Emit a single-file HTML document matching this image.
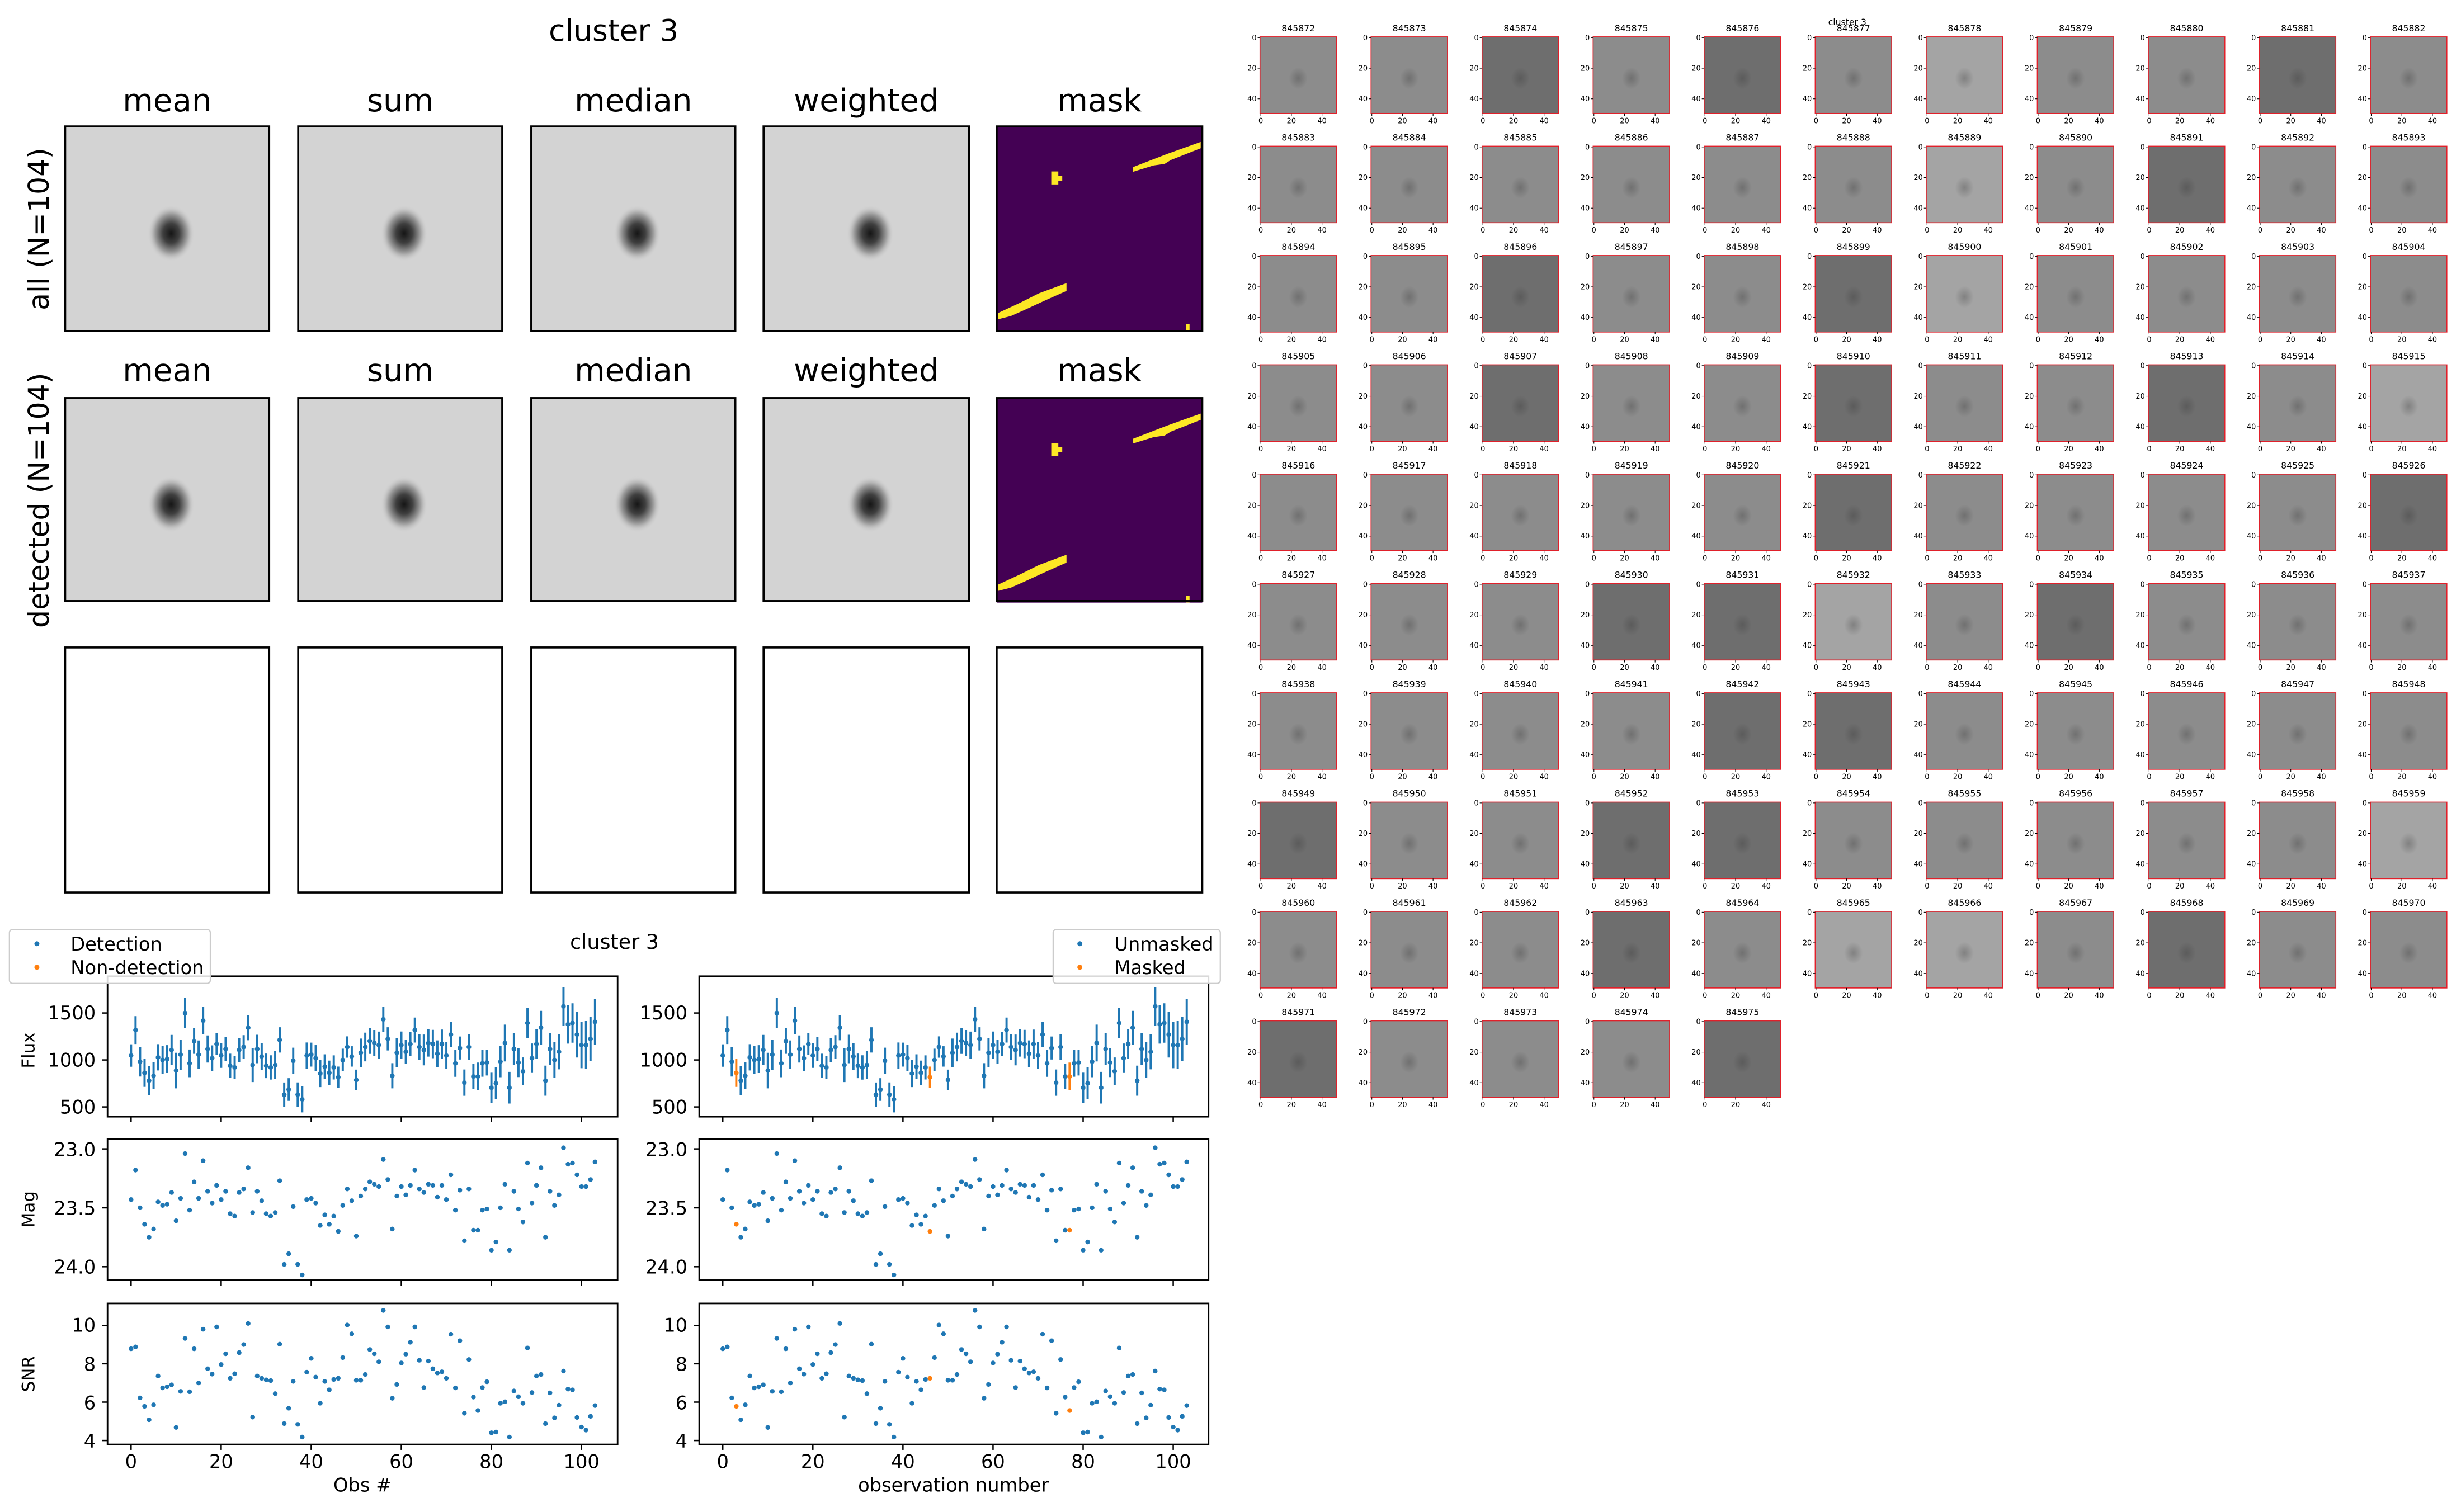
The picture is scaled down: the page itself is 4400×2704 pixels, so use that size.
<!DOCTYPE html>
<html><head><meta charset="utf-8"><style>
html,body{margin:0;padding:0;background:#fff;}
svg{display:block;}
text{font-family:"DejaVu Sans","Liberation Sans",sans-serif;fill:#000;}
</style></head><body>
<svg id="s" xmlns="http://www.w3.org/2000/svg" width="4400" height="2704" viewBox="0 0 1568 964" preserveAspectRatio="none">
<defs>
<radialGradient id="blob" cx="0.5" cy="0.5" r="0.5">
<stop offset="0" stop-color="#151515"/>
<stop offset="0.35" stop-color="#404040"/>
<stop offset="0.7" stop-color="#a0a0a0"/>
<stop offset="1" stop-color="#d2d2d2" stop-opacity="0"/>
</radialGradient>
<radialGradient id="tblob" cx="0.5" cy="0.5" r="0.5">
<stop offset="0" stop-color="#303030" stop-opacity="0.3"/>
<stop offset="1" stop-color="#303030" stop-opacity="0"/>
</radialGradient>
<g id="maskshape">
<rect x="635" y="80.6" width="131" height="130.4" fill="#440154"/>
<polygon points="722,109.5 722,106.5 744,98 765,90.5 765,94.5 746,102 742,104.5 735,105.5" fill="#fde725"/>
<polygon points="636,203.5 636,199.5 650,193 662,187 679.5,180.5 679.5,185.5 666,191.5 653,197.5 644,201.5" fill="#fde725"/>
<rect x="669.8" y="109.3" width="4.5" height="8.3" fill="#fde725"/><rect x="674" y="112" width="2.8" height="3.2" fill="#fde725"/>
<rect x="755.5" y="206.7" width="2.4" height="4.2" fill="#fde725"/>
</g>
</defs>

<text x="391" y="26" font-size="19" text-anchor="middle">cluster 3</text>
<g font-size="20" text-anchor="middle">
<text x="106.5" y="71">mean</text><text x="255" y="71">sum</text><text x="403.5" y="71">median</text><text x="552" y="71">weighted</text><text x="700.5" y="71">mask</text>
<text x="106.5" y="243">mean</text><text x="255" y="243">sum</text><text x="403.5" y="243">median</text><text x="552" y="243">weighted</text><text x="700.5" y="243">mask</text>
</g>
<text transform="translate(31,146) rotate(-90)" font-size="18" text-anchor="middle">all (N=104)</text>
<text transform="translate(31,319) rotate(-90)" font-size="18" text-anchor="middle">detected (N=104)</text>
<g id="topimgs"></g>
<use href="#maskshape"/>
<use href="#maskshape" y="173.2"/>
<g fill="none" stroke="#000" stroke-width="1.3">
<rect x="635" y="80.6" width="131" height="130.4"/><rect x="635" y="253.8" width="131" height="129.4"/>
<rect x="41.5" y="412.8" width="130" height="156.2"/><rect x="190" y="412.8" width="130" height="156.2"/><rect x="338.5" y="412.8" width="130" height="156.2"/><rect x="486.5" y="412.8" width="131" height="156.2"/><rect x="635" y="412.8" width="131" height="156.2"/>
</g>

<text x="391.5" y="605" font-size="13" text-anchor="middle">cluster 3</text>
<g id="lc"></g>
<g font-size="12" text-anchor="end">
<text x="61" y="650">1500</text><text x="61" y="680">1000</text><text x="61" y="710">500</text>
<text x="61" y="737">23.0</text><text x="61" y="774.5">23.5</text><text x="61" y="812">24.0</text>
<text x="61" y="849">10</text><text x="61" y="874">8</text><text x="61" y="898.5">6</text><text x="61" y="923">4</text>
<text x="438" y="650">1500</text><text x="438" y="680">1000</text><text x="438" y="710">500</text>
<text x="438" y="737">23.0</text><text x="438" y="774.5">23.5</text><text x="438" y="812">24.0</text>
<text x="438" y="849">10</text><text x="438" y="874">8</text><text x="438" y="898.5">6</text><text x="438" y="923">4</text>
</g>
<g font-size="12" text-anchor="middle">
<text x="83.5" y="936">0</text><text x="140.9" y="936">20</text><text x="198.3" y="936">40</text><text x="255.7" y="936">60</text><text x="313.1" y="936">80</text><text x="370.5" y="936">100</text>
<text x="460.5" y="936">0</text><text x="517.9" y="936">20</text><text x="575.3" y="936">40</text><text x="632.7" y="936">60</text><text x="690.1" y="936">80</text><text x="747.5" y="936">100</text>
<text x="231" y="951">Obs #</text><text x="607.5" y="951">observation number</text>
</g>
<g font-size="11" text-anchor="middle">
<text transform="translate(22,669.7) rotate(-90)">Flux</text>
<text transform="translate(22,771) rotate(-90)">Mag</text>
<text transform="translate(22,876) rotate(-90)">SNR</text>
</g>
<rect x="6" y="592.6" width="128" height="34.4" rx="2" fill="#fff" fill-opacity="0.85" stroke="#ccc" stroke-width="0.8"/>
<circle cx="23.5" cy="601.7" r="1.6" fill="#1f77b4"/><circle cx="23.5" cy="616.7" r="1.6" fill="#ff7f0e"/>
<text x="45" y="606" font-size="12">Detection</text><text x="45" y="621" font-size="12">Non-detection</text>
<rect x="671" y="592.6" width="106.5" height="34.4" rx="2" fill="#fff" fill-opacity="0.85" stroke="#ccc" stroke-width="0.8"/>
<circle cx="688" cy="601.7" r="1.6" fill="#1f77b4"/><circle cx="688" cy="616.7" r="1.6" fill="#ff7f0e"/>
<text x="710" y="606" font-size="12">Unmasked</text><text x="710" y="621" font-size="12">Masked</text>

<g id="thumbs"></g>
<g font-size="5.6" text-anchor="middle">
<text y="20"><tspan x="827.2">845872</tspan><tspan x="897.9">845873</tspan><tspan x="968.7">845874</tspan><tspan x="1039.4">845875</tspan><tspan x="1110.2">845876</tspan><tspan x="1180.9">845877</tspan><tspan x="1251.7">845878</tspan><tspan x="1322.5">845879</tspan><tspan x="1393.2">845880</tspan><tspan x="1464">845881</tspan><tspan x="1534.7">845882</tspan></text>
<text y="89.7"><tspan x="827.2">845883</tspan><tspan x="897.9">845884</tspan><tspan x="968.7">845885</tspan><tspan x="1039.4">845886</tspan><tspan x="1110.2">845887</tspan><tspan x="1180.9">845888</tspan><tspan x="1251.7">845889</tspan><tspan x="1322.5">845890</tspan><tspan x="1393.2">845891</tspan><tspan x="1464">845892</tspan><tspan x="1534.7">845893</tspan></text>
<text y="159.4"><tspan x="827.2">845894</tspan><tspan x="897.9">845895</tspan><tspan x="968.7">845896</tspan><tspan x="1039.4">845897</tspan><tspan x="1110.2">845898</tspan><tspan x="1180.9">845899</tspan><tspan x="1251.7">845900</tspan><tspan x="1322.5">845901</tspan><tspan x="1393.2">845902</tspan><tspan x="1464">845903</tspan><tspan x="1534.7">845904</tspan></text>
<text y="229.1"><tspan x="827.2">845905</tspan><tspan x="897.9">845906</tspan><tspan x="968.7">845907</tspan><tspan x="1039.4">845908</tspan><tspan x="1110.2">845909</tspan><tspan x="1180.9">845910</tspan><tspan x="1251.7">845911</tspan><tspan x="1322.5">845912</tspan><tspan x="1393.2">845913</tspan><tspan x="1464">845914</tspan><tspan x="1534.7">845915</tspan></text>
<text y="298.8"><tspan x="827.2">845916</tspan><tspan x="897.9">845917</tspan><tspan x="968.7">845918</tspan><tspan x="1039.4">845919</tspan><tspan x="1110.2">845920</tspan><tspan x="1180.9">845921</tspan><tspan x="1251.7">845922</tspan><tspan x="1322.5">845923</tspan><tspan x="1393.2">845924</tspan><tspan x="1464">845925</tspan><tspan x="1534.7">845926</tspan></text>
<text y="368.5"><tspan x="827.2">845927</tspan><tspan x="897.9">845928</tspan><tspan x="968.7">845929</tspan><tspan x="1039.4">845930</tspan><tspan x="1110.2">845931</tspan><tspan x="1180.9">845932</tspan><tspan x="1251.7">845933</tspan><tspan x="1322.5">845934</tspan><tspan x="1393.2">845935</tspan><tspan x="1464">845936</tspan><tspan x="1534.7">845937</tspan></text>
<text y="438.2"><tspan x="827.2">845938</tspan><tspan x="897.9">845939</tspan><tspan x="968.7">845940</tspan><tspan x="1039.4">845941</tspan><tspan x="1110.2">845942</tspan><tspan x="1180.9">845943</tspan><tspan x="1251.7">845944</tspan><tspan x="1322.5">845945</tspan><tspan x="1393.2">845946</tspan><tspan x="1464">845947</tspan><tspan x="1534.7">845948</tspan></text>
<text y="507.9"><tspan x="827.2">845949</tspan><tspan x="897.9">845950</tspan><tspan x="968.7">845951</tspan><tspan x="1039.4">845952</tspan><tspan x="1110.2">845953</tspan><tspan x="1180.9">845954</tspan><tspan x="1251.7">845955</tspan><tspan x="1322.5">845956</tspan><tspan x="1393.2">845957</tspan><tspan x="1464">845958</tspan><tspan x="1534.7">845959</tspan></text>
<text y="577.6"><tspan x="827.2">845960</tspan><tspan x="897.9">845961</tspan><tspan x="968.7">845962</tspan><tspan x="1039.4">845963</tspan><tspan x="1110.2">845964</tspan><tspan x="1180.9">845965</tspan><tspan x="1251.7">845966</tspan><tspan x="1322.5">845967</tspan><tspan x="1393.2">845968</tspan><tspan x="1464">845969</tspan><tspan x="1534.7">845970</tspan></text>
<text y="647.3"><tspan x="827.2">845971</tspan><tspan x="897.9">845972</tspan><tspan x="968.7">845973</tspan><tspan x="1039.4">845974</tspan><tspan x="1110.2">845975</tspan></text>
<text x="1177" y="16">cluster 3</text>
</g>
<g id="tticks" font-size="4.6"></g>
</svg>
<script>
var NS="http://www.w3.org/2000/svg";
function el(p,t,a,txt){var e=document.createElementNS(NS,t);for(var k in a)e.setAttribute(k,a[k]);if(txt!==undefined)e.textContent=txt;p.appendChild(e);return e;}
var ti=document.getElementById('topimgs');
var xs=[41.5,190,338.5,486.5],ws=[130,130,130,131];
[[80.6,130.4],[253.8,129.4]].forEach(function(r){
 for(var i=0;i<4;i++){
  el(ti,'rect',{x:xs[i],y:r[0],width:ws[i],height:r[1],fill:'#d3d3d3',stroke:'#000','stroke-width':1.3});
  var cx=xs[i]+ws[i]/2+2.5, cy=r[0]+r[1]/2+3;
  el(ti,'ellipse',{cx:cx,cy:cy,rx:15,ry:18,fill:'url(#blob)'});
 }
});
var M=[23.43,23.18,23.50,23.64,23.75,23.68,23.45,23.48,23.47,23.37,23.61,23.42,23.04,23.52,23.28,23.42,23.10,23.36,23.46,23.31,23.43,23.36,23.55,23.57,23.37,23.34,23.16,23.54,23.36,23.44,23.55,23.57,23.54,23.27,23.98,23.89,23.49,23.98,24.07,23.43,23.42,23.46,23.65,23.56,23.64,23.57,23.70,23.48,23.34,23.44,23.74,23.40,23.34,23.28,23.30,23.32,23.09,23.26,23.68,23.40,23.32,23.39,23.31,23.18,23.34,23.37,23.30,23.31,23.41,23.31,23.43,23.22,23.52,23.35,23.78,23.34,23.69,23.69,23.52,23.51,23.86,23.79,23.50,23.30,23.86,23.36,23.51,23.62,23.12,23.46,23.31,23.16,23.75,23.36,23.48,23.39,22.99,23.13,23.12,23.22,23.32,23.32,23.26,23.11];
var S=[8.78,8.88,6.22,5.78,5.08,5.86,7.36,6.74,6.8,6.9,4.68,6.56,9.32,6.54,8.78,7.0,9.8,7.74,7.46,9.92,7.96,8.52,7.24,7.48,8.58,9.0,10.1,5.22,7.36,7.24,7.16,7.12,6.44,9.02,4.88,5.68,7.08,4.84,4.18,7.56,8.28,7.3,5.94,7.08,6.64,7.18,7.24,8.32,10.02,9.56,7.14,7.14,7.44,8.74,8.52,8.1,10.78,9.92,6.2,6.92,8.04,8.5,9.12,9.92,8.18,6.76,8.14,7.74,7.52,7.58,7.24,9.54,6.74,9.2,5.42,8.22,6.26,5.56,6.76,7.06,4.4,4.44,5.94,6.02,4.18,6.58,6.28,5.94,8.82,6.5,7.36,7.44,4.88,6.48,5.18,5.84,7.62,6.68,6.64,5.2,4.7,4.54,5.26,5.82];
var masked={3:1,46:1,77:1};
var lc=document.getElementById('lc');
function fy(f){return 675.8-(f-1000)*0.0599;}
function my(m){return 732.5+(m-23)*75.1;}
function sy(s){return 918.4-(s-4)*12.23;}
var panels=[[622.4,712],[726.3,816.2],[831,920.9]];
[[68.5,393.5,83.5],[445.5,770,460.5]].forEach(function(P,pi){
 var x0=P[2];
 for(var i=0;i<104;i++){
  var x=x0+i*2.87, col=(pi==1&&masked[i])?'#ff7f0e':'#1f77b4';
  var f=1000*Math.pow(10,-0.4*(M[i]-23.48)), e=f/S[i];
  el(lc,'line',{x1:x,x2:x,y1:fy(f-e),y2:fy(f+e),stroke:col,'stroke-width':1.4});
  el(lc,'circle',{cx:x,cy:fy(f),r:1.5,fill:col});
  el(lc,'circle',{cx:x,cy:my(M[i]),r:1.5,fill:col});
  el(lc,'circle',{cx:x,cy:sy(S[i]),r:1.5,fill:col});
 }
 panels.forEach(function(pp){
  el(lc,'rect',{x:P[0],y:pp[0],width:P[1]-P[0],height:pp[1]-pp[0],fill:'none',stroke:'#000','stroke-width':1});
  for(var k=0;k<=100;k+=20){var xx=x0+k*2.87;el(lc,'line',{x1:xx,x2:xx,y1:pp[1],y2:pp[1]+3.5,stroke:'#000','stroke-width':0.9});}
 });
 [fy(1500),fy(1000),fy(500),my(23),my(23.5),my(24),sy(10),sy(8),sy(6),sy(4)].forEach(function(y){
  el(lc,'line',{x1:P[0]-3.5,x2:P[0],y1:y,y2:y,stroke:'#000','stroke-width':0.9});
 });
});
var G=[1,1,2,1,2,1,0,1,1,2,1, 1,1,1,1,1,1,0,1,2,1,1, 1,1,2,1,1,2,0,1,1,1,1, 1,1,2,1,1,2,1,1,2,1,0, 1,1,1,1,1,2,1,1,1,1,2, 1,1,1,2,2,0,1,2,1,1,1, 1,1,1,1,2,2,1,1,1,1,1, 2,1,1,2,2,1,1,1,1,1,0, 1,1,1,2,1,0,0,1,2,1,1, 2,1,1,1,2];
var GC=['#a4a4a4','#8c8c8c','#6e6e6e'];
var th=document.getElementById('thumbs'), tt=document.getElementById('tticks');
for(var n=0;n<104;n++){
 var r=Math.floor(n/11),c=n%11,x=802.8+c*70.75,y=23.5+r*69.7,w=48.7,h=48.8;
 el(th,'rect',{x:x,y:y,width:w,height:h,fill:GC[G[n]]});
 el(th,'ellipse',{cx:x+w/2,cy:y+h/2+2,rx:6,ry:7,fill:'url(#tblob)'});
 el(th,'rect',{x:x,y:y,width:w,height:h,fill:'none',stroke:'#e0202a','stroke-width':0.6});
 [0,20,40].forEach(function(v){
  var yy=y+0.5+v*0.975, xx=x+0.5+v*0.975;
  el(tt,'line',{x1:x-1.5,x2:x,y1:yy,y2:yy,stroke:'#000','stroke-width':0.4});
  el(tt,'text',{x:x-2.2,y:yy+1.6,'text-anchor':'end'},String(v));
  el(tt,'line',{x1:xx,x2:xx,y1:y+h,y2:y+h+1.5,stroke:'#000','stroke-width':0.4});
  el(tt,'text',{x:xx,y:y+h+6.3,'text-anchor':'middle'},String(v));
 });
}
</script>
</body></html>
